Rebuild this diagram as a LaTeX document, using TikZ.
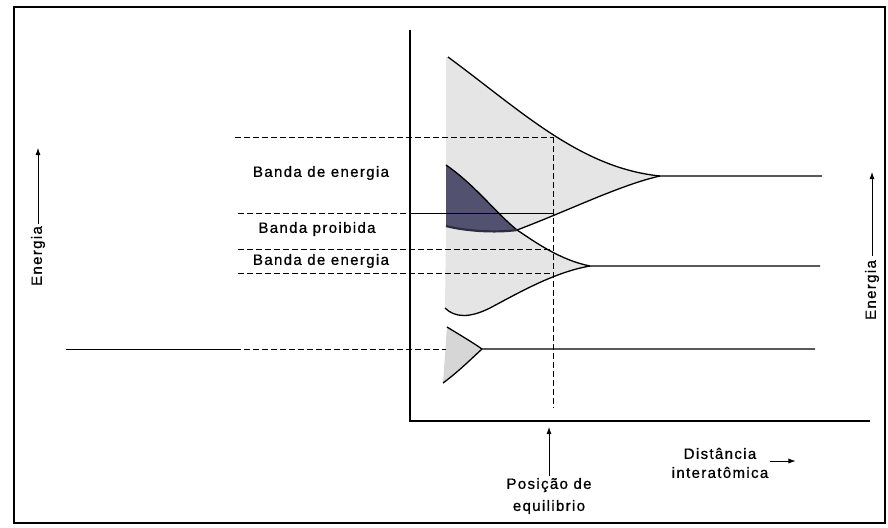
\documentclass[tikz,border=0pt]{standalone}
\usepackage{fontspec}
\setmainfont{Liberation Sans}[LetterSpace=9,FakeBold=0.8]
\usetikzlibrary{arrows.meta}
\definecolor{bandlight}{gray}{0.9}
\definecolor{bandlow}{gray}{0.84}
\definecolor{banddark}{RGB}{82,82,112}
\begin{document}
\begin{tikzpicture}[x=1pt,y=-1pt,
  font=\fontsize{15}{20}\selectfont,
  curve/.style={line width=1.3pt},
  dashln/.style={line width=0.9pt, dash pattern=on 6pt off 3pt},
  lbl/.style={inner sep=2pt, align=center},
  arr/.style={-{Latex[length=7pt,width=5pt]}, line width=0.8pt}]
\useasboundingbox (0,0) rectangle (888,527);
\draw[line width=2.5pt] (14,7) rectangle (885,523);

% fills
\fill[bandlight] (446,57) -- (448,57) .. controls (520,110) and (580,168) .. (660,176)
  .. controls (620,185) and (570,210) .. (517,230) -- (446,230) -- cycle;
\fill[bandlight] (446,228) -- (517,230) .. controls (535,242) and (560,260) .. (590,266)
  .. controls (555,272) and (520,292) .. (490,308) .. controls (470,318) and (455,318) .. (445,308) -- cycle;
\fill[bandlow] (447,327) .. controls (460,335) and (472,342) .. (482,349)
  .. controls (470,360) and (458,372) .. (443,383) -- cycle;
\fill[banddark] (446,165) .. controls (475,185) and (495,212) .. (517,230)
  .. controls (495,233) and (465,231) .. (446,226) -- cycle;

% axes
\draw[line width=1.3pt] (410,30) -- (410,421) -- (870,421);

% dashed guides
\draw[dashln] (235,137) -- (553,137);
\draw[dashln] (238,213) -- (410,213);
\draw[line width=1pt] (410,213) -- (553,213);
\draw[dashln] (238,249) -- (553,249);
\draw[dashln] (238,273) -- (553,273);
\draw[dashln] (553,137) -- (553,408);
\draw[line width=1pt] (66,349) -- (235,349);
\draw[dashln] (235,349) -- (446,349);

% band curves
\draw[curve] (448,57) .. controls (520,110) and (580,168) .. (660,176) -- (822,176);
\draw[curve] (517,230) .. controls (570,210) and (620,185) .. (660,176);
\draw[curve] (446,165) .. controls (475,185) and (495,212) .. (517,230)
  .. controls (535,242) and (560,260) .. (590,266) -- (820,266);
\draw[curve] (445,308) .. controls (455,318) and (470,318) .. (490,308)
  .. controls (520,292) and (555,272) .. (590,266);
\draw[curve] (447,327) .. controls (460,335) and (472,342) .. (482,349) -- (815,349);
\draw[curve] (482,349) .. controls (470,360) and (458,372) .. (443,383);
\draw[line width=2.2pt, banddark!55!black] (446,226) .. controls (465,231) and (495,233) .. (517,230);

% labels
\node[lbl] (b1) at (321,173) {Banda de energia};
\node[lbl] (bp) at (317,229) {Banda proibida};
\node[lbl] (b2) at (321,261) {Banda de energia};

\node[lbl, rotate=90] (eL) at (38,256) {Energia};
\coordinate (eLt) at (38,148);
\draw[arr] (eL.east) -- (eLt);

\node[lbl, rotate=90, inner sep=4pt] (eR) at (872,290) {Energia};
\coordinate (eRt) at (872,172);
\draw[arr] (eR.east) -- (eRt);

\node[lbl, font=\fontsize{15}{22}\selectfont] (pos) at (549,496) {Posição de\\equilibrio};
\coordinate (eq) at (549,427);
\draw[arr] (pos.north) -- (eq);

\node[lbl, font=\fontsize{15}{19}\selectfont] (dist) at (720,463) {Distância\\interatômica};
\draw[arr, line width=0.6pt] ([yshift=2pt]dist.east) -- ++(25,0);
\end{tikzpicture}
\end{document}
